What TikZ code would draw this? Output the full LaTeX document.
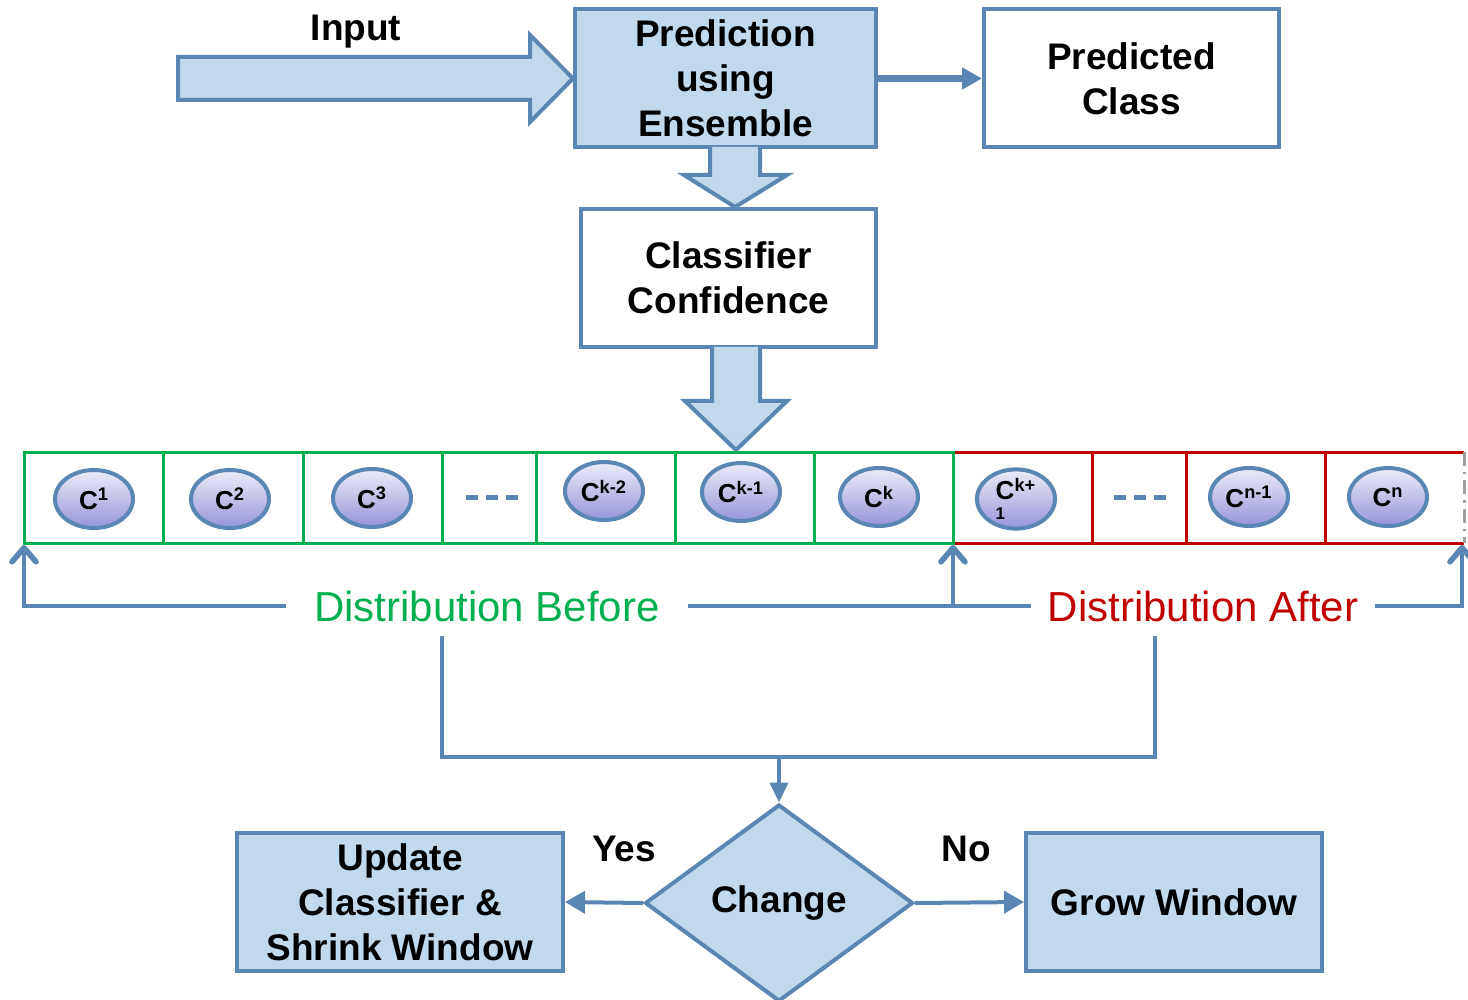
\documentclass[tikz,border=0pt]{standalone}
\usepackage{fontspec}
\setmainfont{Liberation Sans}
\usetikzlibrary{arrows.meta,shapes.geometric,calc}
\definecolor{edge}{RGB}{89,134,178}
\definecolor{fillblue}{RGB}{193,217,236}
\definecolor{grn}{RGB}{0,176,80}
\definecolor{rd}{RGB}{192,0,0}
\definecolor{ovtop}{RGB}{236,236,249}
\definecolor{ovbot}{RGB}{150,148,216}
\newcommand\cidx[1]{C\textsuperscript{#1}}
\begin{document}
\begin{tikzpicture}[x=0.5pt,y=-0.5pt,
  boxtext/.style={font=\bfseries\fontsize{18.5}{22.5}\selectfont},
  box/.style={draw=edge,line width=2pt,inner sep=0pt,minimum width=#1,
    minimum height=69pt,align=center,boxtext},
  bluebox/.style={box=#1,fill=fillblue},
  blockarrow/.style={draw=edge,fill=fillblue,line width=2pt,line join=miter},
  conn/.style={draw=edge,line width=2pt},
  tip/.style={-{Triangle[length=10pt,width=11pt]}},
  uptip/.style={-{Straight Barb[length=7pt,width=12pt,line width=0pt 1.4,round]}},
  oval/.style={ellipse,draw=edge,line width=2pt,top color=ovtop,bottom color=ovbot,
    minimum width=39pt,minimum height=29pt,inner sep=0pt,
    font=\bfseries\fontsize{13}{14}\selectfont},
  cellline/.style={line width=1.5pt},
  gapdash/.style={draw=edge,line width=2.5pt,dash pattern=on 6pt off 4pt},
  dist/.style={font=\fontsize{21}{25}\selectfont,inner ysep=2pt}
]
\useasboundingbox (0,0) rectangle (1468,1000);

% top row: prediction and its output
\node[bluebox=150.5pt] (pred) at (725.5,78.5) {Prediction\\using\\Ensemble};
\node[box=147.5pt,fill=white] (cls) at (1131.5,78.5) {Predicted\\Class};
\node[box=147.5pt,fill=white] (conf) at (728.5,278) {Classifier\\Confidence};

% input block arrow
\draw[blockarrow] (178,57) -- (530,57) -- (530,35) -- (pred.west) -- (530,122)
  -- (530,100) -- (178,100) -- cycle;
\node[boxtext] (inp) at (356,32) {Input};

\draw[draw=edge,line width=3.3pt,-{Triangle[length=10pt,width=10.5pt]}] (pred.east) -- (cls.west);

% block arrows down
\draw[blockarrow] (710,147) -- (710,175) -- (684,175) -- (conf.north -| 735,0)
  -- (787,175) -- (760,175) -- (760,147);
\draw[blockarrow] (712,347) -- (712,401) -- (685,401) -- (736,450)
  -- (787,401) -- (760,401) -- (760,347);

% window cells
\draw[rd,cellline] (953,452) -- (1464,452) (953,543) -- (1464,543);
\foreach \x in {1092,1186,1325} \draw[rd,cellline] (\x,452) -- (\x,543);
\draw[gray!75,cellline,dash pattern=on 7pt off 3pt on 1.2pt off 3pt] (1464,452) -- (1464,543);
\foreach \x in {163,303,442,536,675,814} \draw[grn,cellline] (\x,452) -- (\x,543);
\draw[grn,cellline] (24,452) rectangle (953,543);

\coordinate (bl) at (24,545);
\coordinate (mid) at (953,545);
\coordinate (br) at (1462,545);

% classifiers
\node[oval] (c1) at (94,499) {\cidx{1}};
\node[oval] (c2) at (230,499) {\cidx{2}};
\node[oval] (c3) at (372,498) {\cidx{3}};
\draw[gapdash] (466,497) -- (518,497);
\node[oval] (ck2) at (604,491) {\cidx{k-2}};
\node[oval] (ck1) at (741,492) {\cidx{k-1}};
\node[oval] (ck) at (879,497) {\cidx{k}};
\node[oval,align=left] (ckp) at (1016,499) {\cidx{k+}\\[-4pt]{\fontsize{8.5}{9}\selectfont 1}};
\draw[gapdash] (1114,497) -- (1168,497);
\node[oval] (cn1) at (1249,497) {\cidx{n-1}};
\node[oval] (cn) at (1388,497) {\cidx{n}};

% distribution labels and brackets
\node[dist,text=grn,inner xsep=14pt] (before) at (487,606) {Distribution Before};
\node[dist,text=rd,inner xsep=8pt] (after) at (1203,606) {Distribution After};

\draw[conn,uptip] (before.west) -- (before.west -| bl) -- (bl);
\draw[conn] (before.east) -- (after.west);
\draw[conn,uptip] (before.east -| mid) -- (mid);
\draw[conn,uptip] (after.east) -- (after.east -| br) -- (br);

% merge into the decision
\node[diamond,draw=edge,fill=fillblue,line width=2pt,inner sep=0pt,
  minimum width=134pt,minimum height=98.5pt,boxtext] (chg) at (779,903) {Change};
\coordinate (jl) at (442,636);
\coordinate (jr) at (1155,636);
\coordinate (jm) at (779,757);
\draw[conn] (jl) |- (jm) -| (jr);
\draw[conn,-{Triangle[length=10pt,width=9pt]}] (jm) -- (chg.north);

% outcomes
\node[bluebox=163pt] (upd) at (400,902) {Update\\Classifier \&\\Shrink Window};
\node[bluebox=148pt] (grow) at (1174,902) {Grow Window};
\draw[conn,tip] (chg.west) -- (upd.east);
\draw[conn,tip] (chg.east) -- (grow.west);
\node[boxtext] (yes) at (624,849) {Yes};
\node[boxtext] (no) at (966,849) {No};
\end{tikzpicture}
\end{document}
